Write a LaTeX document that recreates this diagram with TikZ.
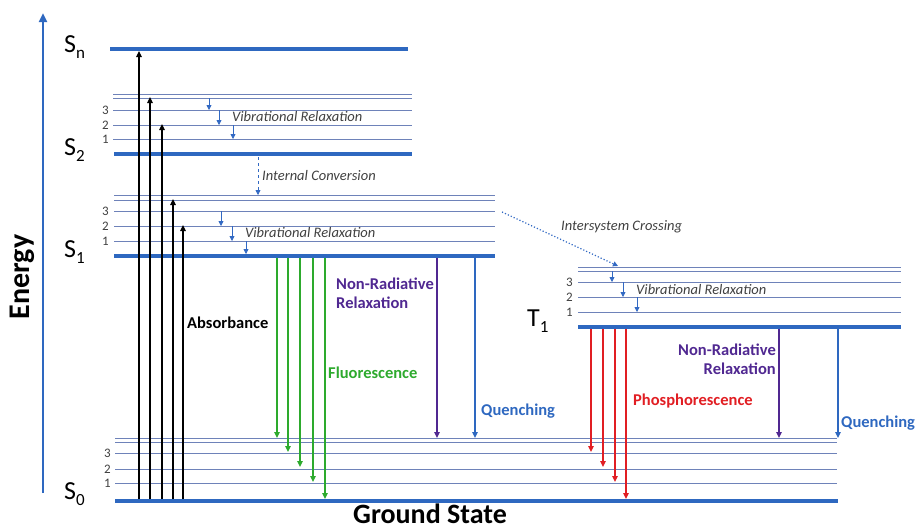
\documentclass[tikz,border=0pt]{standalone}
\usepackage{fontspec}
\setmainfont{Carlito}
\usetikzlibrary{arrows.meta,positioning}

\definecolor{levelblue}{RGB}{46,104,192}
\definecolor{thinblue}{RGB}{110,130,185}
\definecolor{tipblue}{RGB}{50,105,195}
\definecolor{greenline}{RGB}{45,170,45}
\definecolor{redline}{RGB}{225,30,35}
\definecolor{purpleline}{RGB}{80,40,145}
\definecolor{labelgray}{RGB}{64,64,64}

\newcommand{\statelabel}[2]{#1\raisebox{-0.45ex}{\fontsize{17}{17}\selectfont #2}}

\begin{document}
\begin{tikzpicture}[
    x=1pt, y=-1pt,
    % Level styles
    level/.style={draw=levelblue, line width=4.5pt},
    sublevel/.style={draw=thinblue, line width=0.8pt},
    % Arrow styles
    vibline/.style={draw=tipblue, line width=0.8pt, -{Triangle[length=5pt,width=5pt]}},
    absline/.style={draw=black, line width=1.2pt, -{Triangle[length=6pt,width=5.5pt]}},
    fluoline/.style={draw=greenline, line width=1.4pt, -{Triangle[length=6pt,width=5.5pt]}},
    phosline/.style={draw=redline, line width=1.4pt, -{Triangle[length=6pt,width=5.5pt]}},
    nonradline/.style={draw=purpleline, line width=1.4pt, -{Triangle[length=6pt,width=5.5pt]}},
    quenchline/.style={draw=levelblue, line width=1.4pt, -{Triangle[length=6pt,width=5.5pt]}},
    % Text styles
    statetext/.style={font=\fontsize{26}{26}\selectfont, anchor=west, inner sep=0pt},
    numtext/.style={font=\fontsize{13}{13}\selectfont, text=labelgray, anchor=east, inner sep=1pt},
    proctext/.style={font=\fontsize{14.5}{15}\selectfont\itshape, text=labelgray, anchor=west, inner sep=1pt},
    boldtext/.style={font=\fontsize{16.5}{19}\selectfont\bfseries, anchor=west, inner sep=1pt}
]
\useasboundingbox (0,0) rectangle (917,531);

% Energy axis
\coordinate (axis_bottom) at (43,493);
\coordinate (axis_top) at (43,13);
\draw[draw=levelblue, line width=2.5pt, -{Triangle[length=9pt,width=8pt]}] (axis_bottom) -- (axis_top);
\node[font=\fontsize{30}{30}\selectfont\bfseries, rotate=90] (energy) at (22,277) {Energy};

% Singlet Sn
\draw[level] (110,49) -- (408,49);
\node[statetext] (sn) at (64,47) {\statelabel{S}{n}};

% Singlet S2
\foreach \y in {94,98,110,125,139}
    \draw[sublevel] (113,\y) -- (412,\y);
\draw[level] (114,154) -- (412,154);
\node[statetext] (s2) at (64,150) {\statelabel{S}{2}};
\node[numtext] at (110,110) {3};
\node[numtext] at (110,125) {2};
\node[numtext] at (110,139) {1};

% Singlet S1
\foreach \y in {195,200,211,226,241}
    \draw[sublevel] (114,\y) -- (495,\y);
\draw[level] (114,256) -- (495,256);
\node[statetext] (s1) at (64,252) {\statelabel{S}{1}};
\node[numtext] at (110,211) {3};
\node[numtext] at (110,226) {2};
\node[numtext] at (110,241) {1};

% Triplet T1
\foreach \y in {267,271,282,297,312}
    \draw[sublevel] (578,\y) -- (901,\y);
\draw[level] (578,327) -- (901,327);
\node[statetext] (t1) at (527,321) {\statelabel{T}{1}};
\node[numtext] at (574,282) {3};
\node[numtext] at (574,297) {2};
\node[numtext] at (574,312) {1};

% Ground state S0
\foreach \y in {438,442,453,469,483}
    \draw[sublevel] (115,\y) -- (837,\y);
\draw[level] (115,501) -- (838,501);
\node[statetext] (s0) at (64,494) {\statelabel{S}{0}};
\node[numtext] at (112,453) {3};
\node[numtext] at (112,469) {2};
\node[numtext] at (112,483) {1};
\node[font=\fontsize{28}{28}\selectfont\bfseries, anchor=base, inner sep=0pt] (ground) at (430,523) {Ground State};

% Absorbance
\draw[absline] (139,499) -- (139,51);
\draw[absline] (150,499) -- (150,97);
\draw[absline] (162,499) -- (162,124);
\draw[absline] (173,499) -- (173,199);
\draw[absline] (183,499) -- (183,225);
\node[boldtext] (absorb) at (186,323) {Absorbance};

% Vibrational relaxation
\draw[vibline] (209,98) -- (209,110);
\draw[vibline] (219,110) -- (219,125);
\draw[vibline] (233,125) -- (233,139);
\node[proctext] (vib_s2) at (231,117) {Vibrational Relaxation};

\draw[vibline] (221,211) -- (221,226);
\draw[vibline] (232,226) -- (232,241);
\draw[vibline] (246,241) -- (246,254);
\node[proctext] (vib_s1) at (244,233) {Vibrational Relaxation};

\draw[vibline] (612,271) -- (612,282);
\draw[vibline] (623,282) -- (623,297);
\draw[vibline] (637,297) -- (637,312);
\node[proctext] (vib_t1) at (635,290) {Vibrational Relaxation};

% Internal conversion and intersystem crossing
\draw[vibline, dashed] (258,157) -- (258,195);
\node[proctext] (ic) at (261,176) {Internal Conversion};
\draw[vibline, line width=1.2pt, dotted] (502,212) -- (618,266);
\node[proctext] (isc) at (560,227) {Intersystem Crossing};

% Fluorescence
\draw[fluoline] (277,258) -- (277,438);
\draw[fluoline] (288,258) -- (288,452);
\draw[fluoline] (300,258) -- (300,467);
\draw[fluoline] (313,258) -- (313,482);
\draw[fluoline] (325,258) -- (325,499);
\node[boldtext, text=greenline] (fluo) at (327,373) {Fluorescence};

% Non-radiative relaxation and quenching from S1
\draw[nonradline] (437,258) -- (437,438);
\node[boldtext, text=purpleline, align=left] (nonrad_s1) at (335,293) {Non-Radiative\\Relaxation};
\draw[quenchline] (475,258) -- (475,438);
\node[boldtext, text=levelblue] (quench_s1) at (480,411) {Quenching};

% Phosphorescence
\draw[phosline] (591,329) -- (591,452);
\draw[phosline] (603,329) -- (603,467);
\draw[phosline] (615,329) -- (615,482);
\draw[phosline] (626,329) -- (626,499);
\node[boldtext, text=redline] (phos) at (632,401) {Phosphorescence};

% Non-radiative relaxation and quenching from T1
\draw[nonradline] (779,329) -- (779,438);
\node[boldtext, text=purpleline, align=right, anchor=east] (nonrad_t1) at (777,359) {Non-Radiative\\Relaxation};
\draw[quenchline] (838,329) -- (838,438);
\node[boldtext, text=levelblue] (quench_t1) at (840,423) {Quenching};

\end{tikzpicture}
\end{document}
